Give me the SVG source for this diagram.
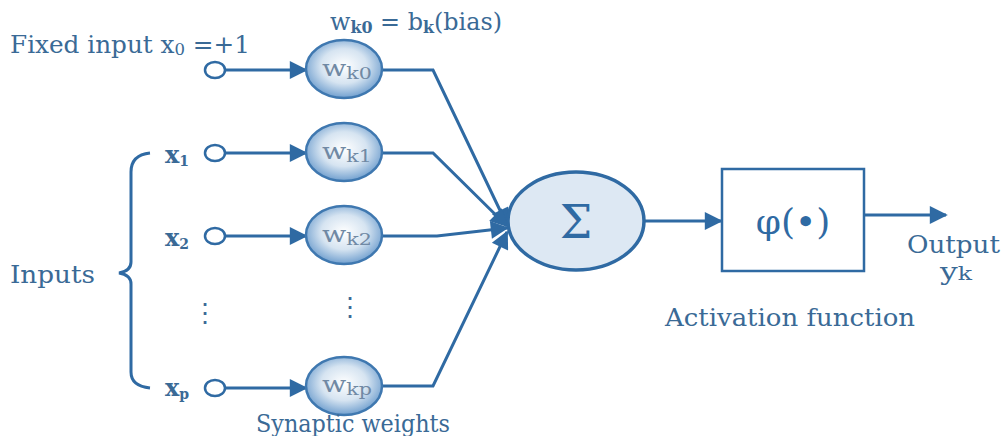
<svg xmlns="http://www.w3.org/2000/svg" width="1006" height="436" viewBox="0 0 1006 436">
<style>
text{font-family:"DejaVu Serif","Liberation Serif",serif;fill:#3a6a96}
.lbl{font-size:24px}
.wt{font-size:22px;fill:#7089a4}
.sub{font-size:16px}
.ln{fill:none;stroke:#2f6aa3;stroke-width:3}
.in{fill:#fff;stroke:#2f6aa3;stroke-width:2.5}
.w{fill:url(#wg);stroke:#3f78b0;stroke-width:2.5}
</style>
<defs>
<radialGradient id="wg" cx="0.5" cy="0.45" r="0.6">
<stop offset="0" stop-color="#ffffff"/>
<stop offset="0.5" stop-color="#d6e4f1"/>
<stop offset="1" stop-color="#5d92c8"/>
</radialGradient>
<marker id="ahb" viewBox="0 0 10 10" refX="9" refY="5" markerWidth="20" markerHeight="18" orient="auto" markerUnits="userSpaceOnUse">
<path d="M0,0 L10,5 L0,10 Z" fill="#2f6aa3"/>
</marker>
</defs>

<g id="connectors">
<line class="ln" x1="226" y1="70" x2="306" y2="70" marker-end="url(#ahb)"/>
<line class="ln" x1="226" y1="153" x2="306" y2="153" marker-end="url(#ahb)"/>
<line class="ln" x1="226" y1="236" x2="306" y2="236" marker-end="url(#ahb)"/>
<line class="ln" x1="226" y1="388" x2="306" y2="388" marker-end="url(#ahb)"/>
<polyline class="ln" points="382,70 433,70 507,225" marker-end="url(#ahb)"/>
<polyline class="ln" points="382,153 433,153 507,226" marker-end="url(#ahb)"/>
<polyline class="ln" points="382,236 437,236 507,228" marker-end="url(#ahb)"/>
<polyline class="ln" points="382,386 433,386 507,232" marker-end="url(#ahb)"/>
<line class="ln" x1="643" y1="221" x2="721" y2="221" marker-end="url(#ahb)"/>
<line class="ln" x1="864" y1="215" x2="946" y2="215" marker-end="url(#ahb)"/>
</g>

<g id="brace">
<path class="ln" stroke-width="2" d="M150,153 Q131,155 131,172 L131,262 Q131,271 119,273 Q131,275 131,284 L131,372 Q131,386 150,388"/>
</g>

<g id="inputs">
<ellipse class="in" cx="215" cy="70" rx="10" ry="8"/>
<ellipse class="in" cx="215" cy="153" rx="10" ry="8"/>
<ellipse class="in" cx="215" cy="236" rx="10" ry="8"/>
<ellipse class="in" cx="215" cy="388" rx="10" ry="8"/>
</g>

<g id="w0"><ellipse class="w" cx="344" cy="69" rx="38" ry="29"/><text class="wt" x="322" y="76" textLength="50" lengthAdjust="spacingAndGlyphs">w<tspan class="sub" dy="3">k0</tspan></text></g>
<g id="w1"><ellipse class="w" cx="344" cy="152" rx="38" ry="29"/><text class="wt" x="322" y="159" textLength="50" lengthAdjust="spacingAndGlyphs">w<tspan class="sub" dy="3">k1</tspan></text></g>
<g id="w2"><ellipse class="w" cx="344" cy="235" rx="38" ry="29"/><text class="wt" x="322" y="242" textLength="50" lengthAdjust="spacingAndGlyphs">w<tspan class="sub" dy="3">k2</tspan></text></g>
<g id="wp"><ellipse class="w" cx="344" cy="386" rx="38" ry="29"/><text class="wt" x="322" y="392" textLength="50" lengthAdjust="spacingAndGlyphs">w<tspan class="sub" dy="3">kp</tspan></text></g>

<g id="sum">
<ellipse cx="576" cy="221" rx="68" ry="49" fill="#dde8f3" stroke="#2f6aa3" stroke-width="3.5"/>
<text x="576" y="238" text-anchor="middle" font-size="46" style="fill:#2f6aa3">Σ</text>
</g>

<g id="activation">
<rect x="722" y="169" width="142" height="102" fill="#fff" stroke="#2f6aa3" stroke-width="2.5"/>
<text x="793" y="234" text-anchor="middle" font-size="36" style="fill:#2f6aa3">φ(•)</text>
</g>

<g id="labels">
<text class="lbl" x="10" y="53" textLength="240" lengthAdjust="spacingAndGlyphs">Fixed input x<tspan font-size="16" dy="2">0</tspan><tspan dy="-2"> =+1</tspan></text>
<text class="lbl" x="330" y="30" font-size="22" textLength="172" lengthAdjust="spacingAndGlyphs">w<tspan font-size="16" dy="3" font-weight="bold">k0</tspan><tspan dy="-3"> = b</tspan><tspan font-size="16" dy="3" font-weight="bold">k</tspan><tspan dy="-3">(bias)</tspan></text>
<text class="lbl" x="165" y="163" font-weight="bold" font-size="20">x<tspan font-size="14" dy="3">1</tspan></text>
<text class="lbl" x="165" y="246" font-weight="bold" font-size="20">x<tspan font-size="14" dy="3">2</tspan></text>
<text class="lbl" x="165" y="396" font-weight="bold" font-size="20">x<tspan font-size="14" dy="3">p</tspan></text>
<text class="lbl" x="10" y="283" textLength="85" lengthAdjust="spacingAndGlyphs">Inputs</text>
<text class="lbl" x="256" y="432" textLength="194" lengthAdjust="spacingAndGlyphs">Synaptic weights</text>
<text class="lbl" x="907" y="253" textLength="93" lengthAdjust="spacingAndGlyphs">Output</text>
<text class="lbl" x="940" y="280" textLength="32" lengthAdjust="spacingAndGlyphs">y<tspan font-size="18">k</tspan></text>
<text class="lbl" x="665" y="326" textLength="250" lengthAdjust="spacingAndGlyphs">Activation function</text>
<text x="205" y="322" font-size="26" text-anchor="middle">⋮</text>
<text x="350" y="316" font-size="26" text-anchor="middle">⋮</text>
</g>
</svg>
